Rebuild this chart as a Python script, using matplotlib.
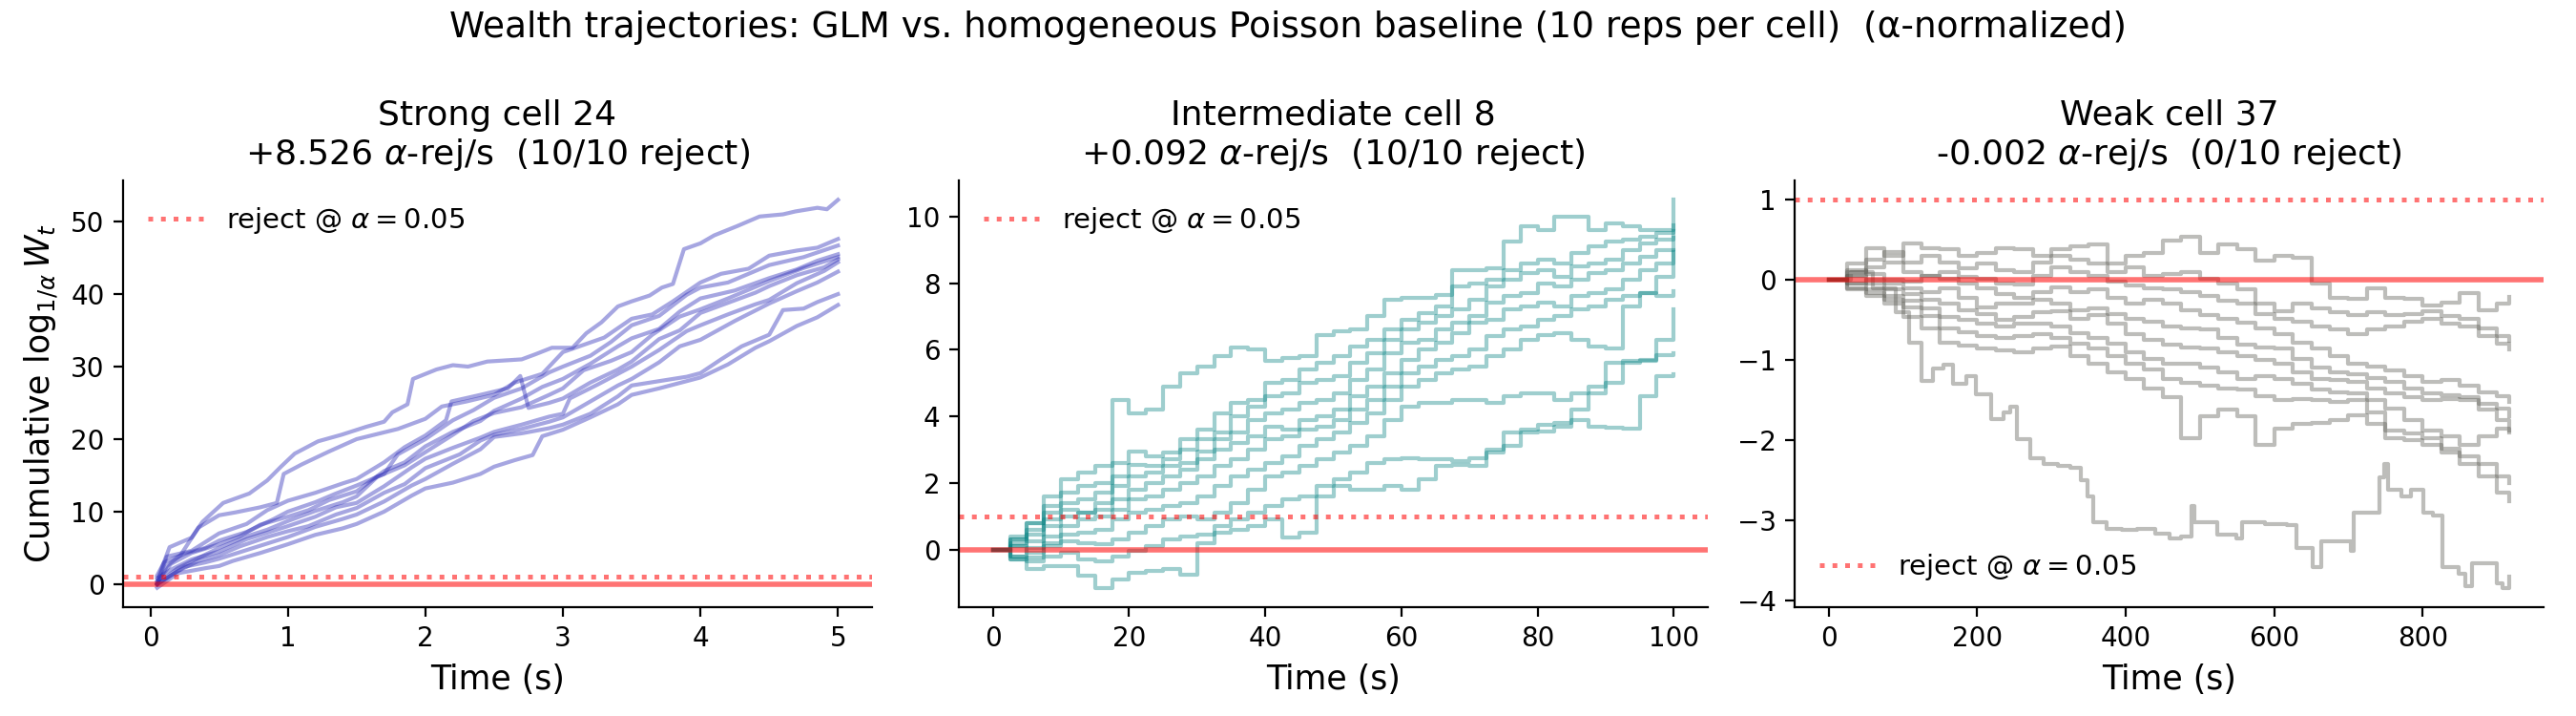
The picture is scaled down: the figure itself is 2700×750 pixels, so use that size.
import matplotlib
matplotlib.use("Agg")
import matplotlib.pyplot as plt

# ---------------- data ----------------
suptitle = "Wealth trajectories: GLM vs. homogeneous Poisson baseline (10 reps per cell)  (α-normalized)"
panel_titles = [
    "Strong cell 24\n+8.526 $\\alpha$-rej/s  (10/10 reject)",
    "Intermediate cell 8\n+0.092 $\\alpha$-rej/s  (10/10 reject)",
    "Weak cell 37\n-0.002 $\\alpha$-rej/s  (0/10 reject)",
]
line_colors = ["#2c2cb8", "#008080", "#5c5c54"]
line_alphas = [0.42, 0.38, 0.4]
reject_level = 1.0
null_level = 0.0
legend_label = "reject @ $\\alpha = 0.05$"
legend_locs = ["upper left", "upper left", "lower left"]

# Strong cell 24: ten replicate trajectories (time s, cumulative log wealth)
strong_times = [
    [0.05, 0.14, 0.30, 0.38, 0.53, 0.72, 0.85, 0.95, 1.05, 1.22, 1.39, 1.57, 1.70, 1.76, 1.87, 1.91, 2.08, 2.20, 2.31, 2.45, 2.70, 2.80, 2.92, 3.07, 3.17, 3.28, 3.40, 3.50, 3.63, 3.72, 3.80, 3.88, 4.00, 4.10, 4.27, 4.43, 4.60, 4.69, 4.85, 4.92, 5.00],
    [0.05, 0.12, 0.22, 0.35, 0.50, 0.62, 0.80, 0.92, 0.97, 1.10, 1.30, 1.50, 1.65, 1.80, 2.00, 2.12, 2.30, 2.50, 2.65, 2.85, 3.00, 3.12, 3.30, 3.50, 3.65, 3.80, 4.00, 4.15, 4.35, 4.50, 4.70, 4.85, 5.00],
    [0.05, 0.12, 0.30, 0.50, 0.70, 0.85, 1.00, 1.20, 1.40, 1.50, 1.70, 1.85, 2.00, 2.15, 2.19, 2.40, 2.60, 2.69, 2.75, 2.90, 3.00, 3.20, 3.40, 3.50, 3.70, 3.85, 4.00, 4.20, 4.40, 4.50, 4.70, 4.90, 5.00],
    [0.05, 0.10, 0.25, 0.40, 0.50, 0.70, 0.90, 1.00, 1.20, 1.35, 1.50, 1.70, 1.80, 2.00, 2.20, 2.35, 2.50, 2.70, 2.90, 3.00, 3.20, 3.35, 3.50, 3.70, 3.90, 4.00, 4.20, 4.40, 4.50, 4.75, 5.00],
    [0.05, 0.15, 0.30, 0.50, 0.65, 0.80, 1.00, 1.15, 1.30, 1.50, 1.70, 1.85, 2.00, 2.20, 2.40, 2.50, 2.70, 2.85, 3.00, 3.20, 3.40, 3.50, 3.70, 3.85, 4.00, 4.25, 4.50, 4.70, 4.85, 5.00],
    [0.05, 0.20, 0.35, 0.50, 0.70, 0.85, 1.00, 1.20, 1.40, 1.50, 1.65, 1.85, 2.00, 2.20, 2.35, 2.50, 2.70, 2.90, 3.00, 3.15, 3.35, 3.50, 3.65, 3.85, 4.00, 4.20, 4.40, 4.50, 4.75, 5.00],
    [0.05, 0.15, 0.30, 0.50, 0.70, 0.90, 1.00, 1.20, 1.35, 1.50, 1.70, 1.90, 2.00, 2.20, 2.40, 2.50, 2.70, 2.90, 3.00, 3.05, 3.25, 3.50, 3.70, 3.90, 4.00, 4.20, 4.40, 4.50, 4.70, 4.90, 5.00],
    [0.05, 0.20, 0.35, 0.50, 0.65, 0.85, 1.00, 1.15, 1.35, 1.50, 1.70, 1.85, 2.00, 2.25, 2.40, 2.50, 2.70, 2.90, 3.00, 3.20, 3.40, 3.50, 3.70, 3.85, 4.00, 4.25, 4.50, 4.70, 4.85, 5.00],
    [0.05, 0.25, 0.40, 0.50, 0.75, 0.90, 1.00, 1.20, 1.40, 1.50, 1.70, 1.90, 2.00, 2.20, 2.40, 2.50, 2.70, 2.90, 3.00, 3.20, 3.40, 3.50, 3.70, 3.90, 4.00, 4.15, 4.30, 4.50, 4.60, 4.75, 4.85, 5.00],
    [0.05, 0.20, 0.40, 0.50, 0.60, 0.80, 1.00, 1.20, 1.40, 1.50, 1.70, 1.90, 2.00, 2.20, 2.40, 2.50, 2.65, 2.78, 2.85, 3.00, 3.20, 3.40, 3.50, 3.70, 3.90, 4.00, 4.20, 4.40, 4.50, 4.70, 4.85, 5.00],
]
strong_values = [
    [0.5, 5.1, 6.4, 8.6, 11.2, 12.5, 14.3, 16.2, 18.0, 19.7, 20.6, 21.7, 22.4, 23.7, 24.8, 28.3, 29.6, 30.2, 30.0, 30.7, 31.0, 31.7, 32.6, 32.6, 34.6, 36.1, 38.3, 39.0, 39.8, 40.9, 41.4, 46.2, 47.0, 48.1, 49.4, 50.7, 51.0, 51.4, 51.9, 51.7, 53.0],
    [0.0, 2.5, 4.0, 7.8, 9.5, 9.9, 10.6, 11.2, 15.2, 16.5, 18.3, 20.0, 20.7, 21.4, 22.8, 24.5, 25.2, 26.1, 27.8, 29.0, 32.0, 32.8, 34.0, 36.6, 37.2, 39.0, 41.6, 42.8, 43.5, 45.3, 46.0, 46.4, 47.6],
    [0.0, 3.8, 4.6, 7.0, 8.3, 10.2, 11.5, 12.6, 13.9, 14.5, 16.8, 18.9, 20.5, 22.6, 25.2, 26.1, 27.0, 28.7, 24.3, 25.0, 25.6, 27.8, 29.6, 30.7, 33.8, 35.0, 37.4, 38.8, 40.2, 41.1, 42.6, 43.7, 44.8],
    [1.2, 3.0, 4.2, 5.0, 6.0, 7.2, 9.0, 10.0, 11.3, 12.5, 13.6, 15.2, 17.9, 20.0, 22.6, 24.0, 25.7, 27.0, 29.2, 30.0, 31.5, 33.4, 35.7, 37.0, 39.9, 40.9, 41.6, 43.2, 44.0, 45.1, 46.7],
    [0.3, 2.8, 4.3, 5.5, 6.6, 8.2, 9.3, 10.2, 11.6, 12.8, 15.6, 16.8, 19.0, 21.0, 22.5, 23.9, 25.6, 27.2, 28.3, 30.4, 32.8, 33.9, 35.2, 37.6, 39.4, 40.5, 42.2, 43.4, 44.6, 45.5],
    [0.0, 2.2, 3.6, 5.0, 6.6, 7.5, 8.7, 10.1, 11.3, 12.1, 14.8, 16.4, 18.2, 20.6, 22.5, 23.6, 24.4, 26.1, 27.0, 29.5, 30.8, 32.0, 34.4, 36.9, 37.9, 39.4, 41.0, 41.8, 43.6, 45.1],
    [0.8, 2.0, 3.4, 4.5, 6.2, 7.4, 8.0, 9.3, 10.6, 11.2, 13.5, 16.1, 17.3, 18.8, 20.2, 21.0, 22.0, 23.1, 23.5, 25.6, 27.5, 30.0, 32.3, 34.9, 35.7, 37.2, 38.6, 39.2, 41.5, 43.2, 44.4],
    [0.0, 1.8, 3.2, 4.0, 5.2, 6.5, 7.3, 8.0, 9.6, 10.5, 12.6, 13.8, 16.0, 17.9, 19.8, 20.6, 21.4, 22.4, 23.0, 25.2, 27.4, 28.3, 30.6, 32.8, 33.7, 36.3, 38.7, 40.4, 41.6, 43.1],
    [0.0, 2.4, 3.0, 3.5, 5.0, 5.9, 6.5, 7.9, 9.0, 9.6, 11.4, 13.6, 14.5, 16.6, 18.6, 20.3, 20.8, 21.5, 22.0, 23.5, 25.9, 27.4, 28.0, 28.6, 29.1, 31.0, 32.8, 34.4, 37.8, 38.0, 38.9, 40.0],
    [-0.5, 1.5, 2.2, 2.5, 3.2, 4.3, 5.5, 6.8, 7.7, 8.3, 10.0, 12.2, 13.2, 14.0, 15.2, 16.2, 17.1, 17.8, 20.4, 21.3, 23.0, 24.8, 26.1, 27.0, 28.0, 28.5, 30.3, 32.6, 33.5, 35.6, 36.8, 38.5],
]

# Intermediate cell 8: values read every 2.5 s (0 ... 100 s)
inter_time = [0, 2.5, 5, 7.5, 10, 12.5, 15, 17.5, 20, 22.5,
              25, 27.5, 30, 32.5, 35, 37.5, 40, 42.5, 45, 47.5,
              50, 52.5, 55, 57.5, 60, 62.5, 65, 67.5, 70, 72.5,
              75, 77.5, 80, 82.5, 85, 87.5, 90, 92.5, 95, 97.5, 100]
inter_values = [
    [0, 0.3, 0.8, 1.6, 2.1, 2.3, 2.5, 4.5, 4.1, 4.2,
     4.9, 5.3, 5.5, 5.8, 6.06, 6.0, 5.67, 5.75, 5.8, 6.44,
     6.54, 6.6, 7.0, 7.5, 7.55, 7.56, 7.65, 8.4, 8.4, 8.45,
     9.25, 9.7, 9.6, 10.0, 10.0, 9.6, 9.8, 9.7, 9.6, 9.6, 9.74],
    [0, 0.4, 0.8, 1.3, 1.7, 1.9, 2.0, 2.6, 2.95, 2.8,
     2.9, 3.3, 3.6, 4.1, 4.4, 4.5, 5.0, 5.1, 5.4, 5.6,
     5.8, 6.1, 6.3, 6.6, 6.9, 7.1, 7.3, 7.9, 8.0, 8.1,
     8.4, 8.6, 8.7, 8.6, 8.9, 9.1, 9.25, 9.3, 9.4, 9.5, 10.5],
    [0, 0.2, 0.6, 1.1, 1.4, 1.5, 1.7, 2.2, 2.55, 2.5,
     2.7, 3.0, 3.3, 3.5, 4.0, 4.3, 4.6, 4.7, 5.0, 5.1,
     5.2, 5.6, 5.9, 6.3, 6.6, 6.8, 7.0, 7.2, 7.5, 7.9,
     8.1, 8.3, 8.4, 8.2, 8.5, 8.6, 8.7, 9.0, 9.2, 9.3, 9.55],
    [0, 0.1, 0.45, 0.9, 1.2, 1.1, 1.4, 1.9, 2.2, 2.3,
     2.5, 2.6, 2.95, 3.3, 3.5, 3.9, 4.1, 4.2, 4.4, 4.5,
     4.7, 5.1, 5.4, 5.9, 6.2, 6.3, 6.6, 6.8, 7.0, 7.4,
     7.6, 7.7, 8.0, 7.9, 8.1, 8.3, 8.4, 8.6, 8.8, 9.0, 9.37],
    [0, 0.3, 0.25, 0.7, 1.0, 1.1, 1.2, 1.5, 1.8, 2.0,
     2.2, 2.4, 2.7, 3.0, 3.2, 3.4, 3.7, 3.6, 3.9, 4.0,
     4.2, 4.6, 4.9, 5.3, 5.7, 6.0, 6.2, 6.5, 6.8, 6.9,
     7.2, 7.3, 7.4, 7.3, 7.6, 7.7, 7.8, 8.1, 8.4, 8.6, 9.0],
    [0, -0.2, 0.05, 0.4, 0.7, 0.9, 1.0, 1.2, 1.5, 1.6,
     1.8, 2.0, 2.2, 2.5, 2.7, 3.0, 3.3, 3.4, 3.6, 3.7,
     3.9, 4.2, 4.5, 4.9, 5.3, 5.5, 5.7, 5.8, 6.0, 6.4,
     6.6, 6.7, 6.9, 7.0, 7.2, 7.3, 7.5, 7.6, 7.7, 8.2, 8.92],
    [0, 0.1, -0.1, 0.2, 0.45, 0.5, 0.6, 0.9, 1.1, 1.2,
     1.3, 1.4, 1.6, 1.9, 2.2, 2.4, 2.6, 2.8, 3.1, 3.3,
     3.5, 3.8, 4.1, 4.5, 4.9, 5.1, 5.3, 5.4, 5.5, 5.8,
     6.0, 6.3, 6.45, 6.5, 6.3, 6.1, 6.05, 7.3, 7.7, 7.6, 7.75],
    [0, -0.3, -0.25, 0.1, 0.25, 0.2, 0.15, 0.3, 0.5, 0.7,
     0.9, 1.0, 0.9, 1.1, 1.4, 1.8, 2.2, 2.3, 2.5, 2.7,
     2.9, 3.1, 3.4, 3.9, 4.3, 4.4, 4.4, 4.5, 4.5, 4.4,
     4.6, 4.7, 4.7, 4.5, 4.7, 4.9, 5.6, 5.6, 5.7, 5.85, 5.9],
    [0, -0.2, -0.35, -0.2, -0.1, -0.3, -0.35, -0.2, -0.05, 0.1,
     0.3, 0.4, 0.45, 0.7, 0.9, 1.1, 1.3, 1.5, 1.6, 1.9,
     2.1, 2.3, 2.6, 2.7, 2.75, 2.7, 2.7, 2.65, 2.75, 3.0,
     3.5, 3.6, 3.75, 3.8, 4.2, 4.7, 5.0, 5.67, 5.67, 6.3, 7.2],
    [0, -0.3, -0.6, -0.5, -0.5, -0.8, -1.15, -0.9, -0.7, -0.65,
     -0.6, -0.75, 0.2, 0.5, 0.6, 0.7, 0.9, 0.35, 0.5, 1.6,
     1.9, 1.8, 1.8, 1.9, 1.8, 2.1, 2.5, 2.55, 2.5, 2.9,
     3.1, 3.5, 3.55, 3.7, 3.9, 3.7, 3.65, 3.63, 4.6, 5.2, 5.25],
]

# Weak cell 37: nine replicates read every 25 s, plus the lowest replicate traced in detail
weak_time = [0, 25, 50, 75, 100, 125, 150, 175, 200, 225,
             250, 275, 300, 325, 350, 375, 400, 425, 450, 475,
             500, 525, 550, 575, 600, 625, 650, 675, 700, 725,
             750, 775, 800, 825, 850, 875, 900, 917]
weak_values = [
    [0, 0.20, 0.40, 0.30, 0.46, 0.40, 0.38, 0.30, 0.34, 0.40,
     0.38, 0.30, 0.39, 0.42, 0.44, 0.20, 0.30, 0.34, 0.49, 0.54,
     0.34, 0.44, 0.38, 0.24, 0.30, 0.28, -0.05, -0.22, -0.24, -0.10,
     -0.22, -0.24, -0.32, -0.28, -0.16, -0.38, -0.30, -0.21],
    [0, 0.10, 0.25, 0.35, 0.22, 0.30, 0.22, 0.15, 0.20, 0.12,
     0.10, 0.22, 0.30, 0.25, 0.20, 0.10, 0.16, 0.05, 0.07, 0.10,
     0.02, -0.05, -0.12, -0.30, -0.39, -0.30, -0.35, -0.40, -0.44, -0.40,
     -0.44, -0.42, -0.39, -0.45, -0.49, -0.60, -0.70, -0.76],
    [0, 0.05, 0.16, 0.22, 0.10, 0.05, 0.10, 0.04, 0.02, -0.05,
     -0.06, 0.05, 0.16, 0.10, 0.05, -0.02, -0.07, -0.10, -0.12, -0.15,
     -0.20, -0.26, -0.30, -0.42, -0.49, -0.52, -0.58, -0.62, -0.67, -0.62,
     -0.58, -0.52, -0.49, -0.55, -0.58, -0.70, -0.80, -0.87],
    [0, 0.12, 0.07, 0.00, -0.02, 0.05, 0.02, -0.05, -0.10, -0.18,
     -0.22, -0.15, -0.09, -0.15, -0.12, -0.22, -0.30, -0.25, -0.30, -0.38,
     -0.44, -0.48, -0.53, -0.60, -0.67, -0.78, -0.86, -0.95, -1.04, -1.08,
     -1.13, -1.20, -1.27, -1.25, -1.32, -1.40, -1.45, -1.52],
    [0, -0.05, 0.00, -0.05, -0.10, -0.15, -0.10, -0.22, -0.34, -0.30,
     -0.30, -0.25, -0.30, -0.38, -0.35, -0.42, -0.49, -0.52, -0.58, -0.60,
     -0.62, -0.72, -0.81, -0.84, -0.86, -0.98, -1.09, -1.15, -1.18, -1.22,
     -1.27, -1.35, -1.41, -1.44, -1.46, -1.55, -1.60, -1.70],
    [0, 0.05, -0.05, -0.12, -0.18, -0.25, -0.30, -0.38, -0.42, -0.50,
     -0.46, -0.40, -0.39, -0.48, -0.44, -0.55, -0.67, -0.75, -0.81, -0.84,
     -0.86, -0.90, -0.95, -1.00, -1.04, -1.15, -1.23, -1.25, -1.27, -1.35,
     -1.41, -1.46, -1.50, -1.48, -1.50, -1.62, -1.75, -1.88],
    [0, -0.05, -0.12, -0.20, -0.26, -0.35, -0.46, -0.50, -0.54, -0.58,
     -0.54, -0.55, -0.58, -0.66, -0.72, -0.80, -0.90, -0.98, -1.04, -1.05,
     -1.09, -1.15, -1.23, -1.20, -1.23, -1.30, -1.37, -1.40, -1.41, -1.50,
     -1.60, -1.75, -1.88, -1.95, -2.06, -1.95, -1.85, -1.90],
    [0, -0.10, -0.16, -0.25, -0.34, -0.45, -0.60, -0.65, -0.70, -0.72,
     -0.70, -0.68, -0.72, -0.80, -0.86, -0.95, -1.04, -1.12, -1.23, -1.28,
     -1.32, -1.35, -1.37, -1.45, -1.50, -1.48, -1.50, -1.52, -1.50, -1.65,
     -1.88, -1.92, -1.97, -2.10, -2.20, -2.30, -2.45, -2.53],
    [0, -0.12, -0.20, -0.30, -0.46, -0.60, -0.78, -0.82, -0.86, -0.88,
     -0.90, -0.85, -0.83, -0.95, -1.04, -1.15, -1.23, -1.35, -1.46, -1.97,
     -1.70, -1.62, -1.70, -2.06, -1.85, -1.80, -1.78, -1.75, -1.69, -1.80,
     -1.97, -2.00, -2.06, -2.15, -2.29, -2.45, -2.65, -2.76],
]
weak_low_time = [0, 30, 60, 90, 108, 125, 140, 155, 168, 185, 198, 219, 235, 245, 254, 271, 290, 309, 326, 340, 348, 356, 374, 395, 416, 440, 459, 475, 489, 493, 523, 549, 557, 587, 617, 630, 652, 664, 695, 703, 707, 729, 742, 748, 754, 772, 784, 801, 814, 827, 848, 857, 866, 891, 900, 908, 917]
weak_low_values = [0, 0.1, -0.1, -0.4, -0.78, -1.26, -1.1, -1.06, -1.3, -1.2, -1.42, -1.74, -1.65, -1.58, -1.98, -2.22, -2.3, -2.32, -2.34, -2.5, -2.7, -3.02, -3.1, -3.12, -3.1, -3.16, -3.22, -3.2, -2.82, -3.02, -3.18, -3.22, -3.02, -3.04, -3.06, -3.34, -3.58, -3.26, -3.26, -3.38, -2.9, -2.9, -2.46, -2.3, -2.62, -2.7, -2.62, -2.9, -2.94, -3.58, -3.66, -3.82, -3.54, -3.54, -3.78, -3.84, -3.7]

# ---------------- figure ----------------
fig, axes = plt.subplots(1, 3, figsize=(13.5, 3.75), dpi=200)
fig.subplots_adjust(left=0.0478, right=0.9874, bottom=0.152, top=0.748, wspace=0.116)

LW = 1.5

ax = axes[0]
for t, v in zip(strong_times, strong_values):
    ax.plot(t, v, color=line_colors[0], lw=LW, alpha=line_alphas[0])

ax = axes[1]
for v in inter_values:
    ax.plot(inter_time, v, color=line_colors[1], lw=LW, alpha=line_alphas[1],
            drawstyle="steps-post")

ax = axes[2]
for v in weak_values:
    ax.plot(weak_time, v, color=line_colors[2], lw=LW, alpha=line_alphas[2],
            drawstyle="steps-post")
ax.plot(weak_low_time, weak_low_values, color=line_colors[2], lw=LW,
        alpha=line_alphas[2], drawstyle="steps-post")

for i, ax in enumerate(axes):
    ax.axhline(reject_level, color="red", ls=":", lw=1.8, alpha=0.55, label=legend_label)
    ax.axhline(null_level, color="red", ls="-", lw=2.0, alpha=0.55)
    ax.set_title(panel_titles[i], fontsize=13)
    ax.set_xlabel("Time (s)", fontsize=12.5)
    ax.tick_params(labelsize=10)
    ax.spines["top"].set_visible(False)
    ax.spines["right"].set_visible(False)
    ax.legend(loc=legend_locs[i], frameon=False, fontsize=10.5)

axes[0].set_ylabel("Cumulative $\\log_{1/\\alpha} W_t$", fontsize=12.5)
fig.suptitle(suptitle, fontsize=13.5, y=0.985)

fig.savefig("out.png", dpi=200)
